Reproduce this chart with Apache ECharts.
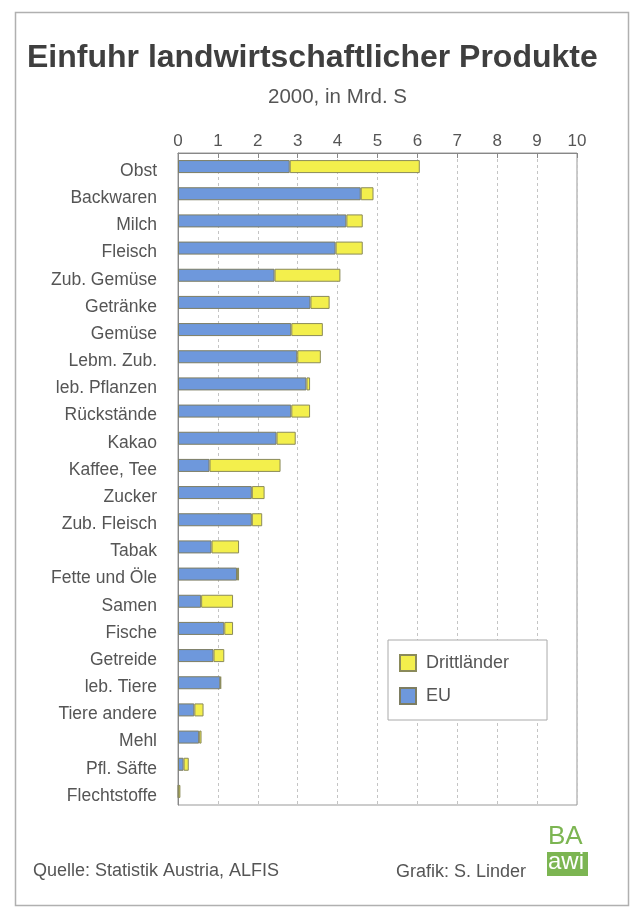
<!DOCTYPE html>
<html>
<head>
<meta charset="utf-8">
<script src="https://cdn.jsdelivr.net/npm/echarts@6/dist/echarts.min.js"></script>
<style>
html,body{margin:0;padding:0;background:#fff;}
#chart{width:639px;height:911px;}
</style>
</head>
<body>
<div id="chart"></div>
<script>
var categories = ['Obst','Backwaren','Milch','Fleisch','Zub. Gemüse','Getränke','Gemüse','Lebm. Zub.','leb. Pflanzen','Rückstände','Kakao','Kaffee, Tee','Zucker','Zub. Fleisch','Tabak','Fette und Öle','Samen','Fische','Getreide','leb. Tiere','Tiere andere','Mehl','Pfl. Säfte','Flechtstoffe'];
var euValues = [2.80,4.58,4.22,3.95,2.42,3.32,2.84,2.99,3.22,2.84,2.47,0.79,1.85,1.85,0.84,1.48,0.58,1.16,0.89,1.06,0.41,0.53,0.14,0.01];
var drittValues = [3.26,0.32,0.41,0.68,1.65,0.48,0.79,0.59,0.09,0.47,0.48,1.78,0.32,0.26,0.69,0.05,0.80,0.22,0.27,0.02,0.23,0.06,0.13,0.05];
var xTicks = [0,1,2,3,4,5,6,7,8,9,10];

var FONT = '"Liberation Sans", Arial, sans-serif';
var TXT = '#555555';

var chart = echarts.init(document.getElementById('chart'), null, {renderer:'canvas'});
chart.setOption({
  backgroundColor: '#ffffff',
  animation: false,
  title: [
    {text: 'Einfuhr landwirtschaftlicher Produkte', left: 27, top: 42, padding: 0,
     textStyle: {fontFamily: FONT, fontSize: 32, fontWeight: 'bold', color: '#3f3f3f'}},
    {text: '2000, in Mrd. S', left: 268, top: 87, padding: 0,
     textStyle: {fontFamily: FONT, fontSize: 20.5, fontWeight: 'normal', color: TXT}}
  ],
  legend: {
    data: ['Drittländer','EU'],
    orient: 'vertical',
    left: 388, top: 640,
    padding: [14, 38, 15, 11],
    itemWidth: 16, itemHeight: 16, itemGap: 15,
    backgroundColor: '#ffffff',
    borderColor: '#aaaaaa', borderWidth: 1,
    icon: 'rect',
    textStyle: {fontFamily: FONT, fontSize: 18, color: TXT, padding: [0,0,0,5]}
  },
  grid: {left: 178, right: 62, top: 153, bottom: 106, show: true, borderColor: '#999999', borderWidth: 1, backgroundColor: 'transparent'},
  xAxis: {
    type: 'value', position: 'top', min: xTicks[0], max: xTicks[xTicks.length-1], interval: 1,
    axisLine: {show: true, lineStyle: {color: '#888888', width: 1}},
    axisTick: {show: true, inside: true, length: 5, lineStyle: {color: '#888888'}},
    splitLine: {show: true, lineStyle: {color: '#c4c4c4', type: [3,3], width: 1}},
    axisLabel: {fontFamily: FONT, fontSize: 17, color: TXT, margin: 3}
  },
  yAxis: {
    type: 'category', data: categories, inverse: true,
    axisLine: {show: true, lineStyle: {color: '#888888'}},
    axisTick: {show: false},
    axisLabel: {fontFamily: FONT, fontSize: 17.5, color: TXT, margin: 21, verticalAlign: 'top', lineHeight: 9}
  },
  series: [
    {name: 'EU', type: 'bar', stack: 'total', data: euValues, barWidth: 13,
     itemStyle: {color: '#6e98dc', borderColor: '#7d7d62', borderWidth: 1}},
    {name: 'Drittländer', type: 'bar', stack: 'total', data: drittValues, barWidth: 13,
     itemStyle: {color: '#f3ef4c', borderColor: '#8a8a5a', borderWidth: 1}}
  ],
  graphic: [
    {type: 'rect', left: 13, top: 10, shape: {width: 613, height: 893},
     style: {fill: 'none', stroke: '#b0b0b0', lineWidth: 1.5}, silent: true},
    {type: 'text', left: 33, top: 862,
     style: {text: 'Quelle: Statistik Austria, ALFIS', fontFamily: FONT, fontSize: 18, fill: TXT}},
    {type: 'text', left: 396, top: 863,
     style: {text: 'Grafik: S. Linder', fontFamily: FONT, fontSize: 18, fill: TXT}},
    {type: 'text', left: 548, top: 824,
     style: {text: 'BA', fontFamily: FONT, fontSize: 26, fill: '#7cb552'}},
    {type: 'rect', left: 547, top: 852, shape: {width: 41, height: 24},
     style: {fill: '#7cb552'}},
    {type: 'text', left: 548, top: 850,
     style: {text: 'awi', fontFamily: FONT, fontSize: 24, fill: '#ffffff'}}
  ]
});
</script>
</body>
</html>
